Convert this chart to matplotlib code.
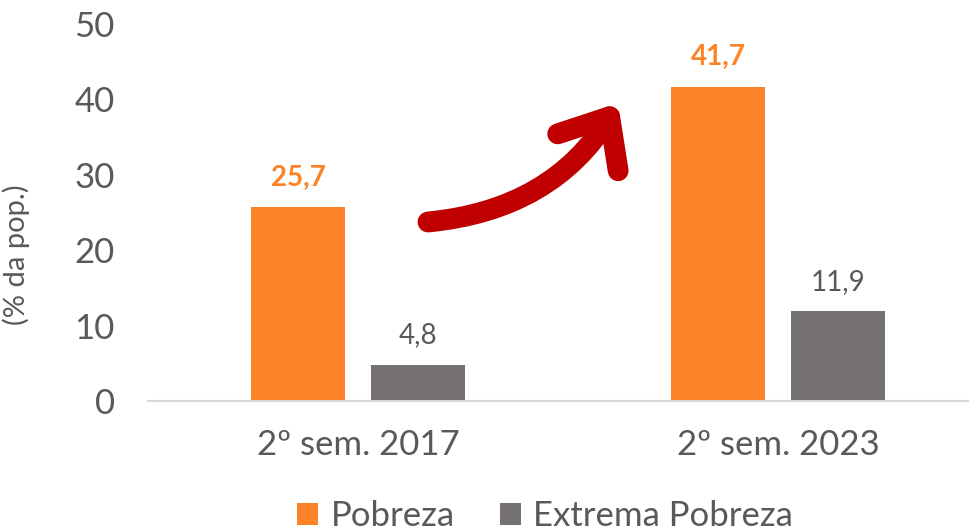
import matplotlib.pyplot as plt
from matplotlib.patches import FancyArrowPatch

categories = ['2º sem. 2017', '2º sem. 2023']
pobreza = [25.7, 41.7]
extrema = [4.8, 11.9]
series_names = ['Pobreza', 'Extrema Pobreza']

ORANGE = '#FD8328'
GRAY = '#767171'
TEXT = '#595959'

plt.rcParams['font.family'] = ['Lato', 'DejaVu Sans']

W, H = 969, 531
fig = plt.figure(figsize=(W / 100, H / 100), dpi=100)
ax = fig.add_axes([148 / W, 130 / H, 1 - 148 / W, (401 - 24) / H])

x = range(len(categories))
off = 60 / 420
bw = 94 / 420
b1 = ax.bar([i - off for i in x], pobreza, bw, color=ORANGE, label=series_names[0])
b2 = ax.bar([i + off for i in x], extrema, bw, color=GRAY, label=series_names[1])

# data labels
for rect, v in zip(b1, pobreza):
    ax.annotate(f'{v:.1f}'.replace('.', ','), (rect.get_x() + rect.get_width() / 2, v),
                xytext=(0, 12), textcoords='offset points', ha='center', va='bottom',
                fontsize=20, fontweight='bold', color=ORANGE)
for rect, v in zip(b2, extrema):
    ax.annotate(f'{v:.1f}'.replace('.', ','), (rect.get_x() + rect.get_width() / 2, v),
                xytext=(0, 12), textcoords='offset points', ha='center', va='bottom',
                fontsize=20, color=TEXT)

ax.set_xlim(-0.5, (W - 148) / 420 - 0.5)
ax.set_ylim(0, 50)
ax.set_yticks([0, 10, 20, 30, 40, 50])
ax.set_xticks(list(x), categories)
ax.tick_params(axis='both', length=0, labelsize=25, labelcolor=TEXT)
ax.tick_params(axis='y', pad=24)
ax.tick_params(axis='x', pad=20)
for s in ['top', 'right', 'left']:
    ax.spines[s].set_visible(False)
ax.spines['bottom'].set_color('#D9D9D9')
ax.spines['bottom'].set_linewidth(1.5)

ax.set_ylabel('(% da pop.)', fontsize=21, color=TEXT)
ax.yaxis.set_label_coords(-0.144, 0.387)

# red arrow
arrow = FancyArrowPatch((428 / W, 1 - 222 / H), (618 / W, 1 - 103 / H),
                        transform=fig.transFigure,
                        connectionstyle='arc3,rad=0.25',
                        arrowstyle='->,head_length=2.0,head_width=1.7',
                        mutation_scale=15, linewidth=15, color='#C00000',
                        capstyle='round', joinstyle='round',
                        shrinkA=0, shrinkB=0)
fig.patches.append(arrow)

fig.legend(handles=[b1, b2], labels=series_names, loc='center',
           bbox_to_anchor=(545 / W, 1 - 516 / H), ncol=2, frameon=False,
           fontsize=25, labelcolor=TEXT, handlelength=0.6, handleheight=0.6,
           handletextpad=0.35, columnspacing=1.3, borderpad=0)

fig.savefig('out.png', dpi=100)
